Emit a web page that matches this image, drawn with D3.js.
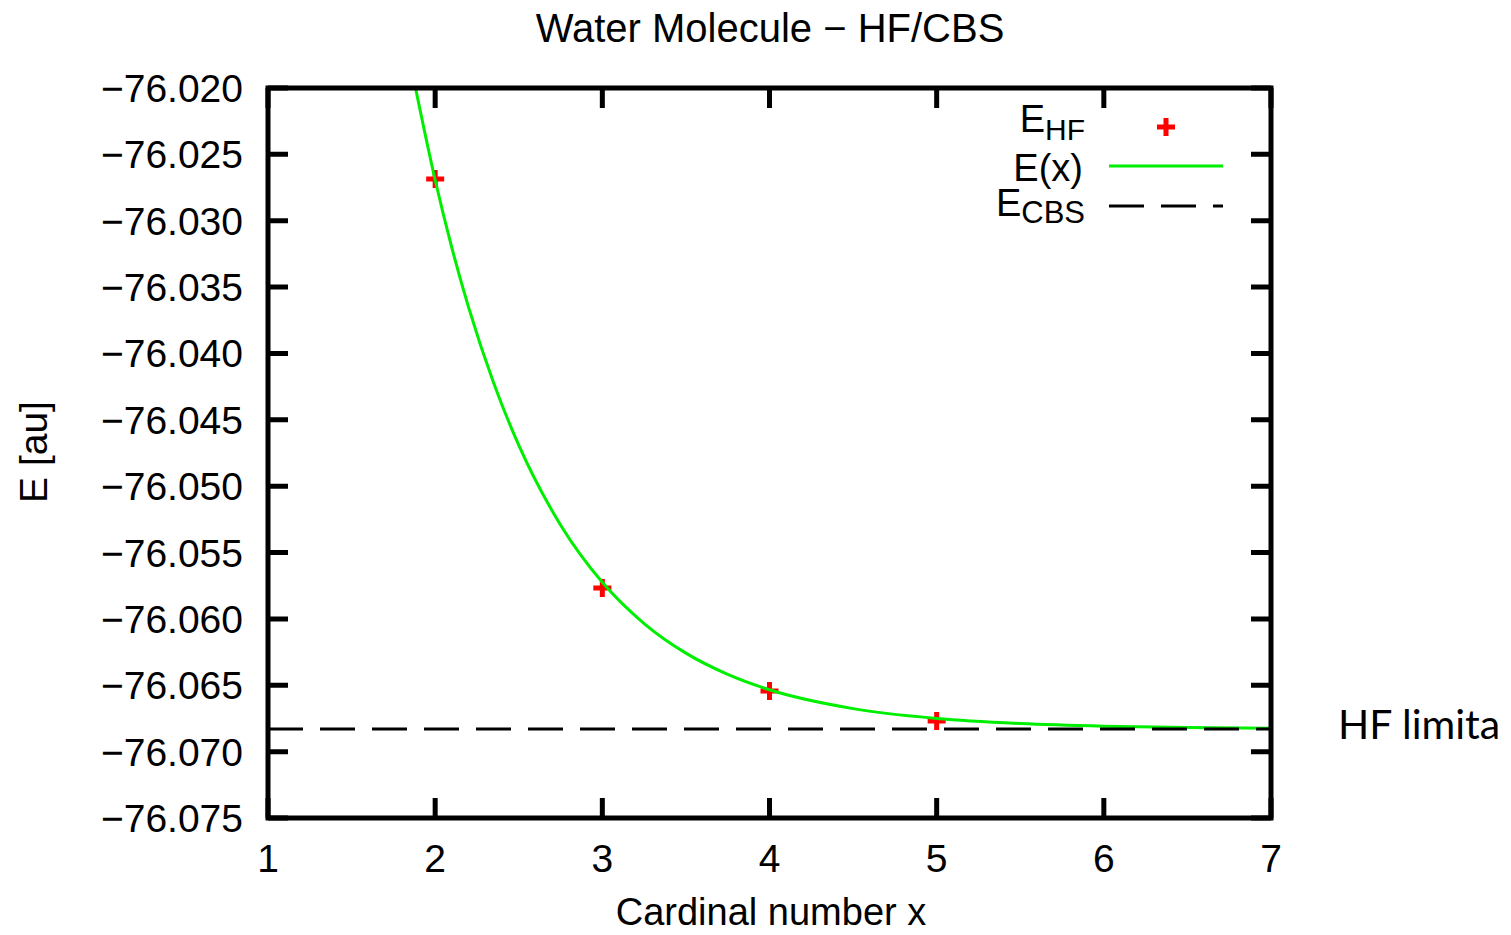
<!DOCTYPE html>
<html>
<head>
<meta charset="utf-8">
<script src="https://cdn.jsdelivr.net/npm/d3@7"></script>
<style>
  body { margin: 0; background: #fff; }
  text { font-family: "Liberation Sans", Arial, sans-serif; fill: #000; }
</style>
</head>
<body>
<div id="chart"></div>
<script>
// data
var cardinal = [2, 3, 4, 5];
var energyHF = [-76.02686, -76.05767, -76.06543, -76.06769];

// fitted curve E(x)
var fitX = [1.88, 2.0, 2.1, 2.2, 2.35, 2.5, 2.75, 3.0, 3.25, 3.5, 3.75, 4.0, 4.5, 5.0, 5.5, 6.0, 6.5, 7.0];
var fitE = [-76.01985, -76.02693, -76.03205, -76.03653, -76.04223, -76.04691, -76.05292, -76.05724, -76.06035, -76.06258, -76.06418, -76.06534, -76.06676, -76.06750, -76.06788, -76.06808, -76.06818, -76.06823];

var eCBS = -76.06829;

var xTicks = [1, 2, 3, 4, 5, 6, 7];
var yTicks = [-76.075, -76.070, -76.065, -76.060, -76.055, -76.050, -76.045, -76.040, -76.035, -76.030, -76.025, -76.020];

var width = 1511;
var height = 935;
var pL = 268, pR = 1271, pT = 88, pB = 818;

var svg = d3.select('#chart')
  .append("svg")
  .attr("width", width)
  .attr("height", height)

var x = d3.scaleLinear().domain([1, 7]).range([pL, pR])
var y = d3.scaleLinear().domain([-76.075, -76.020]).range([pB, pT])
var fmt = d3.format(".3f")

svg.append("clipPath").attr("id", "plot")
  .append("rect")
  .attr("x", pL).attr("y", pT)
  .attr("width", pR - pL).attr("height", pB - pT)

// title
svg.append("text")
  .attr("x", 770).attr("y", 42)
  .attr("text-anchor", "middle")
  .style("font-size", "40px")
  .text("Water Molecule \u2212 HF/CBS")

// y ticks, mirrored on the right
var tick = 20;
svg.selectAll(".ytick")
  .data(yTicks)
  .enter()
  .append("path")
  .attr("class", "ytick")
  .attr("d", function (d) {
    return "M" + pL + "," + y(d) + "h" + tick + "M" + pR + "," + y(d) + "h" + (-tick)
  })
  .attr("stroke", "#000")
  .attr("stroke-width", 5)

svg.selectAll(".ylab")
  .data(yTicks)
  .enter()
  .append("text")
  .attr("class", "ylab")
  .attr("x", 243)
  .attr("y", function (d) { return y(d) + 14 })
  .attr("text-anchor", "end")
  .style("font-size", "39px")
  .text(function (d) { return fmt(d) })

// x ticks, mirrored on top
svg.selectAll(".xtick")
  .data(xTicks)
  .enter()
  .append("path")
  .attr("class", "xtick")
  .attr("d", function (d) {
    return "M" + x(d) + "," + pB + "v" + (-tick) + "M" + x(d) + "," + pT + "v" + tick
  })
  .attr("stroke", "#000")
  .attr("stroke-width", 5)

svg.selectAll(".xlab")
  .data(xTicks)
  .enter()
  .append("text")
  .attr("class", "xlab")
  .attr("x", function (d) { return x(d) })
  .attr("y", 872)
  .attr("text-anchor", "middle")
  .style("font-size", "39px")
  .text(function (d) { return d })

// axis titles
svg.append("text")
  .attr("x", 771).attr("y", 925)
  .attr("text-anchor", "middle")
  .style("font-size", "38px")
  .text("Cardinal number x")

svg.append("text")
  .attr("transform", "translate(47,452) rotate(-90)")
  .attr("text-anchor", "middle")
  .style("font-size", "39px")
  .text("E [au]")

var plot = svg.append("g").attr("clip-path", "url(#plot)")

// data points
var pts = cardinal.map(function (c, i) { return [c, energyHF[i]] })

function cross(g, cx, cy) {
  g.append("path")
    .attr("d", "M" + (cx - 9) + "," + cy + "h18M" + cx + "," + (cy - 9) + "v18")
    .attr("stroke", "#ff0000")
    .attr("stroke-width", 5)
}

pts.forEach(function (d) { cross(plot, x(d[0]), y(d[1])) })

// fitted curve
var fit = fitX.map(function (v, i) { return [v, fitE[i]] })
var line = d3.line()
  .x(function (d) { return x(d[0]) })
  .y(function (d) { return y(d[1]) })
  .curve(d3.curveMonotoneX)

plot.append("path")
  .datum(fit)
  .attr("d", line)
  .attr("fill", "none")
  .attr("stroke", "#00ee00")
  .attr("stroke-width", 3)

// CBS limit
plot.append("line")
  .attr("x1", pL).attr("x2", pR)
  .attr("y1", y(eCBS)).attr("y2", y(eCBS))
  .attr("stroke", "#000")
  .attr("stroke-width", 3)
  .attr("stroke-dasharray", "35,17")

// border
svg.append("rect")
  .attr("x", pL).attr("y", pT)
  .attr("width", pR - pL).attr("height", pB - pT)
  .attr("fill", "none")
  .attr("stroke", "#000")
  .attr("stroke-width", 5)

// legend
var leg = svg.append("g")
var rows = [127, 166, 206];

var t1 = leg.append("text").attr("x", 1085).attr("y", rows[0] + 5)
  .attr("text-anchor", "end").style("font-size", "38px")
t1.append("tspan").text("E")
t1.append("tspan").attr("dy", 8).style("font-size", "30px").text("HF")
cross(leg, 1166, rows[0])

leg.append("text").attr("x", 1083).attr("y", rows[1] + 15)
  .attr("text-anchor", "end").style("font-size", "38px")
  .text("E(x)")
leg.append("line")
  .attr("x1", 1109).attr("x2", 1223)
  .attr("y1", rows[1]).attr("y2", rows[1])
  .attr("stroke", "#00ee00").attr("stroke-width", 3)

var t3 = leg.append("text").attr("x", 1085).attr("y", rows[2] + 10)
  .attr("text-anchor", "end").style("font-size", "38px")
t3.append("tspan").text("E")
t3.append("tspan").attr("dy", 7).style("font-size", "31px").text("CBS")
leg.append("line")
  .attr("x1", 1109).attr("x2", 1223)
  .attr("y1", rows[2]).attr("y2", rows[2])
  .attr("stroke", "#000").attr("stroke-width", 3)
  .attr("stroke-dasharray", "35,17")

// side note
svg.append("text")
  .attr("x", 1338).attr("y", 739)
  .style("font-family", "Lato, 'Open Sans', sans-serif")
  .style("font-size", "41px")
  .text("HF limita")
</script>
</body>
</html>
